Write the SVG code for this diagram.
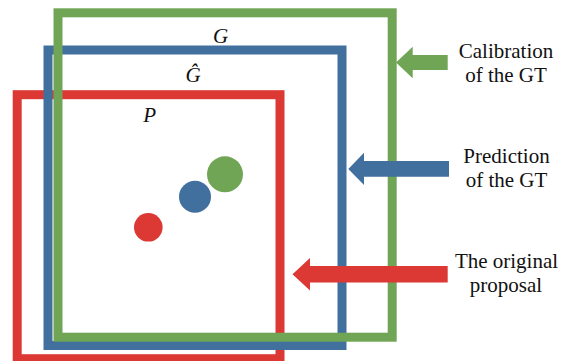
<svg xmlns="http://www.w3.org/2000/svg" width="568" height="361" viewBox="0 0 568 361">
<style>
.box{fill:none;stroke-width:9}
.r{stroke:#dc3934}.b{stroke:#41709f}.g{stroke:#70a556}
.rf{fill:#dc3934}.bf{fill:#41709f}.gf{fill:#70a556}
text{font-family:'Liberation Serif','DejaVu Serif',serif;font-size:21px;fill:#111;text-anchor:middle}
.math{font-style:italic}
</style>
<rect width="568" height="361" fill="#fff"/>
<g id="proposal-box">
<rect class="box r" x="17.2" y="94.7" width="262.8" height="264"/>
<text class="math" x="149.7" y="121.5">P</text>
</g>
<g id="prediction-box">
<rect class="box b" x="48" y="50" width="294" height="295.5"/>
<text class="math" x="193" y="82.3">Ĝ</text>
</g>
<g id="gt-box">
<rect class="box g" x="58" y="12.8" width="334.2" height="324.4"/>
<text class="math" x="220.5" y="42.7">G</text>
</g>
<g id="points">
<circle class="rf" cx="148.3" cy="227.3" r="14.3"/>
<circle class="bf" cx="195" cy="196.7" r="16"/>
<circle class="gf" cx="225" cy="174.3" r="18"/>
</g>
<g id="connectors">
<polygon class="gf" points="396,62.5 412.7,46.7 412.7,55 447.7,55 447.7,70 412.7,70 412.7,78.3"/>
<polygon class="bf" points="348.3,169 364,152.7 364,161 449,161 449,176.7 364,176.7 364,185"/>
<polygon class="rf" points="292.5,274.3 310,258 310,266 447.7,266 447.7,282.5 310,282.5 310,290.5"/>
</g>
<g id="label-calibration">
<text x="506" y="58.3">Calibration</text>
<text x="506" y="81.7">of the GT</text>
</g>
<g id="label-prediction">
<text x="506.5" y="163.3">Prediction</text>
<text x="506.5" y="186.7">of the GT</text>
</g>
<g id="label-original">
<text x="506.5" y="268.3">The original</text>
<text x="506" y="291.5">proposal</text>
</g>
</svg>
